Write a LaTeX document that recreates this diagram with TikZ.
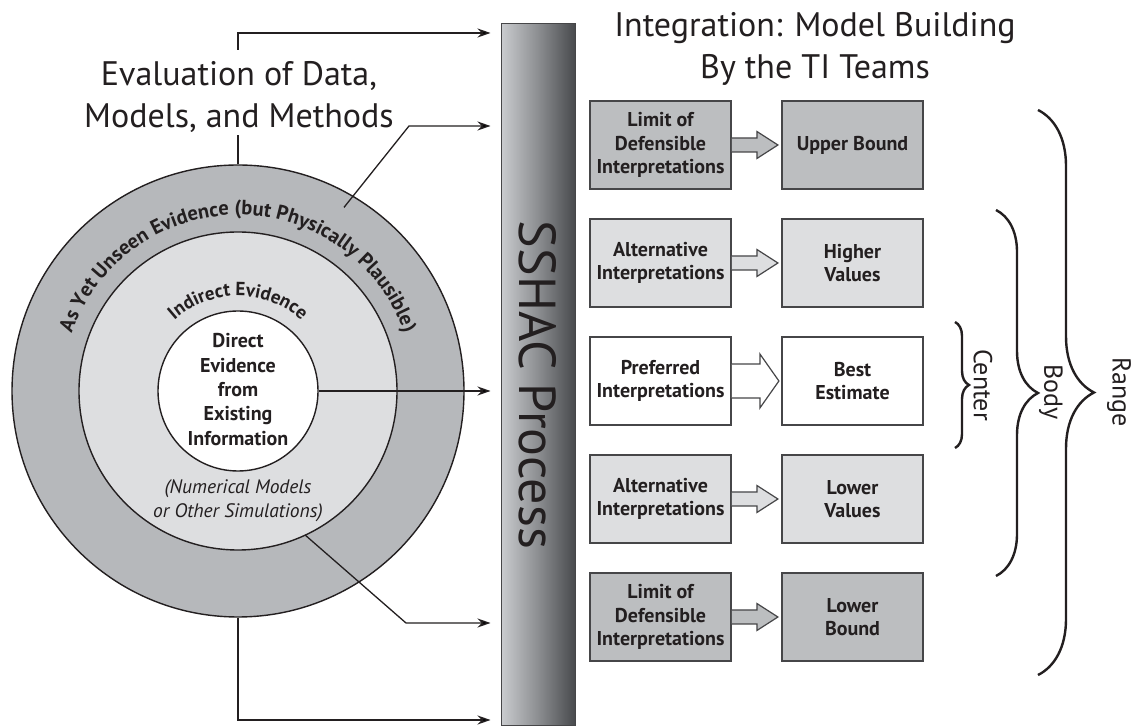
\documentclass[tikz,border=0pt]{standalone}
\usepackage{fontspec}
\setmainfont{PT Sans}
\usetikzlibrary{calc,arrows.meta,decorations.text,decorations.pathreplacing}
\definecolor{ringc}{RGB}{182,184,187}
\definecolor{midc}{RGB}{221,222,224}
\definecolor{boxg}{RGB}{188,190,192}
\definecolor{boxl}{RGB}{221,222,224}
\definecolor{ink}{RGB}{35,31,32}
\definecolor{edgec}{RGB}{70,70,72}
\definecolor{barl}{RGB}{202,204,207}
\definecolor{barm}{RGB}{140,142,145}
\definecolor{bard}{RGB}{72,74,77}
\newcommand\myboxfont{\bfseries\fontsize{20}{23.3}\selectfont}
\newcommand\myringfont{\bfseries\fontsize{20.5}{24}\selectfont}
\newcommand\myindfont{\bfseries\fontsize{19}{22}\selectfont}
\newcommand\mytitlefont{\fontsize{34}{42}\selectfont}
\begin{document}
\begin{tikzpicture}[x=1pt,y=1pt,
  plain/.style={draw=ink, line width=1.3pt},
  conn/.style={draw=ink, line width=1.3pt, -{Stealth[length=13pt,width=9pt]}, shorten >=10pt},
  ringnode/.style={circle, draw=ink, line width=1.4pt, inner sep=0pt},
  boxbase/.style={draw=edgec, line width=1.8pt, minimum width=141pt, minimum height=88pt, align=center, font=\myboxfont, text=ink, inner sep=1pt},
  boxgray/.style={boxbase, fill=boxg},
  boxlight/.style={boxbase, fill=boxl},
  boxwhite/.style={boxbase, fill=white},
  barrow/.style={draw=edgec, line width=1.2pt, line join=miter},
  bracestyle/.style={draw=ink, line width=2.4pt, decorate},
  titlestyle/.style={align=center, font=\mytitlefont, text=ink, inner sep=0pt},
  sidelabel/.style={rotate=-90, font=\fontsize{26}{30}\selectfont, text=ink, inner sep=0pt}
]
\useasboundingbox (0,0) rectangle (1134,725);
\fill[white] (0,0) rectangle (1134,725);

% circles
\coordinate (C) at (238,334);
\node[ringnode, fill=ringc, minimum size=452pt] (outer) at (C) {};
\node[ringnode, fill=midc, minimum size=318pt] (middle) at (C) {};
\node[ringnode, fill=white, minimum size=160pt] (inner) at (C) {};

\path[decorate, decoration={text along path, text color=ink,
  text={|\myringfont|As Yet Unseen Evidence (but Physically Plausible)}, text align=center}]
  ($(C)+(175:176)$) arc[start angle=175, end angle=5, radius=176];
\path[decorate, decoration={text along path, text color=ink,
  text={|\myindfont|Indirect Evidence}, text align=center}]
  ($(C)+(150:95)$) arc[start angle=150, end angle=30, radius=95];

\node[align=center, font=\bfseries\fontsize{20}{24.3}\selectfont, text=ink] (direct) at (238,335.5)
  {Direct\\Evidence\\from\\Existing\\Information};
\node[align=center, font=\itshape\fontsize{19.5}{24}\selectfont, text=ink] (numer) at (238,224)
  {(Numerical Models\\or Other Simulations)};

% titles
\node[titlestyle] (title1) at (239,628) {Evaluation of Data,\\Models, and Methods};
\node[titlestyle] (title2) at (815,676) {Integration: Model Building\\By the TI Teams};

% bar
\node[draw=edgec, line width=1pt, minimum width=74pt, minimum height=701pt, inner sep=0pt,
  left color=barl, right color=bard, middle color=barm] (bar) at (538,350.5) {};
\node[rotate=-90, font=\fontsize{52}{58}\selectfont, text=ink, inner sep=0pt] (sshac) at (538,340) {SSHAC Process};

% connectors
\coordinate (g1b) at (238,590);
\coordinate (g1t) at (238,675);
\draw[plain] (outer.north) -- (g1b);
\draw[conn] (g1t) |- (bar.west |- 0,692);
\coordinate (a2s) at ($(C)+(60:212)$);
\coordinate (a2k) at (409,599);
\draw[conn] (a2s) -- (a2k) -- (a2k -| bar.west);
\draw[conn] (inner.east) -- (inner.east -| bar.west);
\coordinate (a4s) at ($(C)+(-65:159)$);
\coordinate (a4k) at (406,102);
\draw[conn] (a4s) -- (a4k) -- (a4k -| bar.west);
\draw[conn] (outer.south) |- (bar.west |- 0,5);

% boxes
\node[boxgray]  (L1) at (660.5,580) {Limit of\\Defensible\\Interpretations};
\node[boxgray]  (R1) at (852.5,580) {Upper Bound};
\node[boxlight] (L2) at (660.5,462) {Alternative\\Interpretations};
\node[boxlight] (R2) at (852.5,462) {Higher\\Values};
\node[boxwhite] (L3) at (660.5,344) {Preferred\\Interpretations};
\node[boxwhite] (R3) at (852.5,344) {Best\\Estimate};
\node[boxlight] (L4) at (660.5,226) {Alternative\\Interpretations};
\node[boxlight] (R4) at (852.5,226) {Lower\\Values};
\node[boxgray]  (L5) at (660.5,108) {Limit of\\Defensible\\Interpretations};
\node[boxgray]  (R5) at (852.5,108) {Lower\\Bound};

% block arrows
\foreach \b/\f in {L1/boxg, L2/boxl, L4/boxl, L5/boxg}{
  \draw[barrow, fill=\f] ($(\b.east)+(0,7)$) -- ($(\b.east)+(25,7)$) -- ($(\b.east)+(25,13.5)$)
    -- ($(\b.east)+(46,0)$) -- ($(\b.east)+(25,-13.5)$) -- ($(\b.east)+(25,-7)$) -- ($(\b.east)+(0,-7)$);
}
\draw[barrow, fill=white] ($(L3.east)+(0,17)$) -- ($(L3.east)+(28,17)$) -- ($(L3.east)+(28,27)$)
  -- ($(L3.east)+(47,0)$) -- ($(L3.east)+(28,-27)$) -- ($(L3.east)+(28,-17)$) -- ($(L3.east)+(0,-17)$);

% braces
\draw[bracestyle, decoration={brace, amplitude=14pt}] (955,403) -- (955,277);
\draw[bracestyle, decoration={brace, amplitude=42pt}] (996,515) -- (996,149);
\draw[bracestyle, decoration={brace, amplitude=56pt}] (1038,615) -- (1038,50);
\node[sidelabel] (lcenter) at (983,340) {Center};
\node[sidelabel] (lbody) at (1051,333) {Body};
\node[sidelabel] (lrange) at (1119,333) {Range};
\end{tikzpicture}
\end{document}
